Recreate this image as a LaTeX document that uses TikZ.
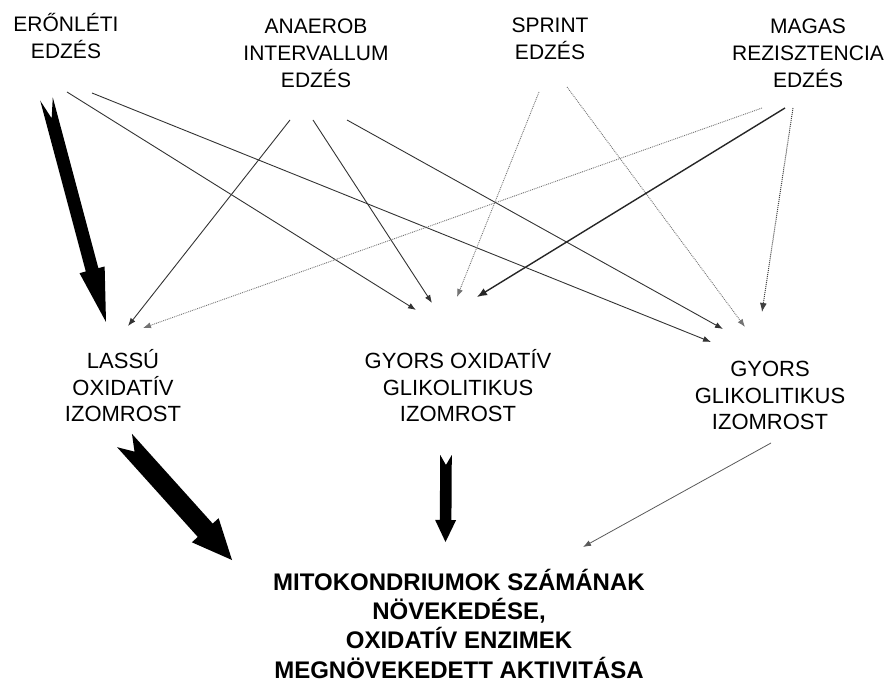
\documentclass[tikz,border=0pt]{standalone}
\usepackage{fontspec}
\setmainfont{Liberation Sans}
\usetikzlibrary{calc,arrows.meta}

% Filled block arrow with a notched tail:
% #1 tail, #2 tip, #3 half shaft width, #4 half head width,
% #5 head length, #6 notch depth, #7 prefix for helper coordinate
\newcommand\fatarrow[7]{%
  \coordinate (#7-hb) at ($(#2)!#5pt!(#1)$);
  \fill[fatfill] ($(#1)!#3pt!90:(#2)$) -- ($(#1)!#6pt!(#2)$) -- ($(#1)!#3pt!-90:(#2)$)
    -- ($(#7-hb)!#3pt!-90:(#2)$) -- ($(#7-hb)!#4pt!-90:(#2)$) -- (#2)
    -- ($(#7-hb)!#4pt!90:(#2)$) -- ($(#7-hb)!#3pt!90:(#2)$) -- cycle;
}

% multi-line labels are placed by the baseline of their last line
\tikzset{
  toplabel/.style={align=center, inner sep=0pt, anchor=base,
    font=\fontsize{21}{27}\selectfont},
  fibre/.style={align=center, inner sep=0pt, anchor=base,
    font=\fontsize{22}{27}\selectfont},
  result/.style={align=center, inner sep=0pt, anchor=base,
    font=\bfseries\fontsize{24}{29.3}\selectfont},
  fatfill/.style={fill=black},
  link/.style={draw=black!80, line width=0.9pt, -{Latex[length=8pt,width=6pt]}},
  boldlink/.style={draw=black!85, line width=1.4pt, -{Latex[length=10pt,width=8pt]}},
  faint/.style={draw=black!55, line width=0.9pt, densely dotted, -{Latex[length=8pt,width=6pt]}},
  darkdots/.style={draw=black!75, line width=1pt, densely dotted, -{Latex[length=9pt,width=7pt]}},
  thinlink/.style={draw=black!65, line width=0.8pt, -{Latex[length=8pt,width=6pt]}},
}

\begin{document}
\begin{tikzpicture}[x=1pt, y=-1pt]
\useasboundingbox (0,0) rectangle (889,684);

% training types
\node[toplabel] (endur)  at (66,59)  {ERŐNLÉTI\\EDZÉS};
\node[toplabel] (anaer)  at (316,88) {ANAEROB\\INTERVALLUM\\EDZÉS};
\node[toplabel] (sprint) at (550,60) {SPRINT\\EDZÉS};
\node[toplabel] (resist) at (808,88) {MAGAS\\REZISZTENCIA\\EDZÉS};

% fibre types
\node[fibre] (slow)  at (123,422) {LASSÚ\\OXIDATÍV\\IZOMROST};
\node[fibre] (fog)   at (458,422) {GYORS OXIDATÍV\\GLIKOLITIKUS\\IZOMROST};
\node[fibre] (fg)    at (770,430) {GYORS\\GLIKOLITIKUS\\IZOMROST};

% outcome
\node[result] (mito) at (459,678) {MITOKONDRIUMOK SZÁMÁNAK\\NÖVEKEDÉSE,\\OXIDATÍV ENZIMEK\\MEGNÖVEKEDETT AKTIVITÁSA};

% connector end points
\coordinate (endur-o1) at (67,92);
\coordinate (endur-o2) at (92,93);
\coordinate (anaer-o1) at (290,120);
\coordinate (anaer-o2) at (313,120);
\coordinate (anaer-o3) at (347,120);
\coordinate (sprint-o1) at (539,92);
\coordinate (sprint-o2) at (567,87);
\coordinate (resist-o1) at (762,108);
\coordinate (resist-o2) at (785,108);
\coordinate (resist-o3) at (793,108);
\coordinate (fg-o) at (771,443);

\coordinate (slow-i1) at (128,326);
\coordinate (slow-i2) at (143,328);
\coordinate (fog-i1) at (416,310);
\coordinate (fog-i2) at (432,303);
\coordinate (fog-i3) at (457,297);
\coordinate (fog-i4) at (477,297);
\coordinate (fg-i1) at (711,342);
\coordinate (fg-i2) at (723,329);
\coordinate (fg-i3) at (745,327);
\coordinate (fg-i4) at (762,312);
\coordinate (mito-i) at (583,547);

% block arrows
\coordinate (endur-fat) at (46.5,99);
\coordinate (slow-fat-i) at (106,322);
\fatarrow{endur-fat}{slow-fat-i}{6.5}{13}{54}{20}{fa}
\coordinate (slow-fat) at (124.5,440.5);
\coordinate (mito-fat1) at (232,560);
\fatarrow{slow-fat}{mito-fat1}{10}{18}{40}{15}{fb}
\coordinate (fog-fat) at (446,455);
\coordinate (mito-fat2) at (445.5,542);
\fatarrow{fog-fat}{mito-fat2}{5.8}{10.5}{22}{10}{fc}

% training -> fibre
\draw[link] (endur-o1) -- (fog-i1);
\draw[link] (endur-o2) -- (fg-i1);
\draw[link] (anaer-o1) -- (slow-i1);
\draw[link] (anaer-o2) -- (fog-i2);
\draw[link] (anaer-o3) -- (fg-i2);
\draw[faint] (sprint-o1) -- (fog-i3);
\draw[faint] (sprint-o2) -- (fg-i3);
\draw[faint] (resist-o1) -- (slow-i2);
\draw[boldlink] (resist-o2) -- (fog-i4);
\draw[darkdots] (resist-o3) -- (fg-i4);

% fibre -> outcome
\draw[thinlink] (fg-o) -- (mito-i);
\end{tikzpicture}
\end{document}
